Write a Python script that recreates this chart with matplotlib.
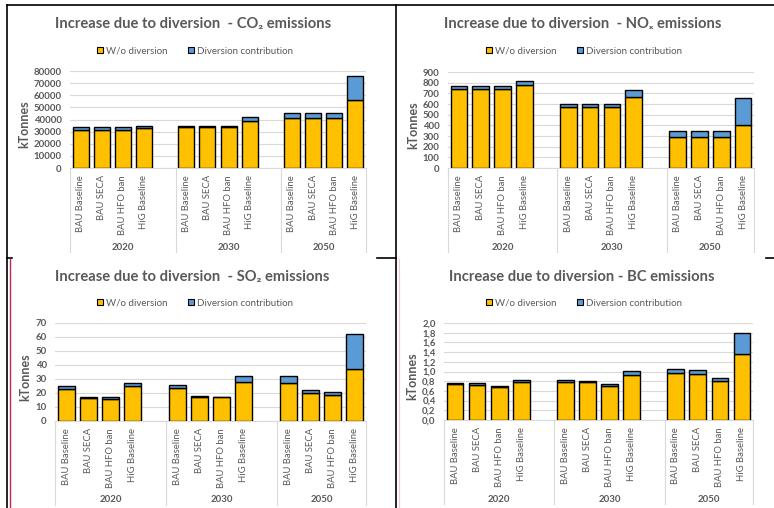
import matplotlib.pyplot as plt
from matplotlib.lines import Line2D
from matplotlib.patches import Rectangle
import matplotlib.transforms as mtransforms

# categories
scenarios = ['BAU Baseline', 'BAU SECA', 'BAU HFO ban', 'HiG Baseline']
scenarios_eca = ['BAU Baseline', 'BAU SECA', 'BAU HFO ban', 'HiG Baseline']
nox_scenarios = ['BAU Baseline', 'BAU SECA', 'BAU HFO ban', 'HiG Baseline']
years = ['2020', '2030', '2050']
series_names = ['W/o diversion', 'Diversion contribution']

# CO2 (kTonnes), order: 2020 x4, 2030 x4, 2050 x4
co2_wo = [31600, 31600, 31600, 33300, 34000, 34000, 34000, 38500, 41000, 41000, 41000, 56400]
co2_div = [1900, 1900, 1900, 1600, 900, 900, 900, 3300, 4400, 4400, 4400, 19200]

nox_wo = [742, 742, 742, 782, 571, 571, 571, 661, 295, 295, 295, 400]
nox_div = [25, 25, 25, 37, 31, 31, 31, 68, 50, 50, 50, 252]

so2_wo = [23.0, 16.1, 16.0, 24.7, 23.7, 17.3, 16.8, 27.6, 26.9, 19.9, 18.9, 37.4]
so2_div = [1.9, 0.7, 0.8, 2.2, 1.7, 0.7, 0.7, 4.5, 5.2, 1.9, 1.7, 24.5]

bc_wo = [0.745, 0.724, 0.676, 0.793, 0.793, 0.793, 0.697, 0.924, 0.966, 0.952, 0.814, 1.352]
bc_div = [0.027, 0.042, 0.021, 0.035, 0.041, 0.021, 0.041, 0.083, 0.089, 0.082, 0.062, 0.441]

co2_ticks = [0, 10000, 20000, 30000, 40000, 50000, 60000, 70000, 80000]
nox_ticks = [0, 100, 200, 300, 400, 500, 600, 700, 800, 900]
so2_ticks = [0, 10, 20, 30, 40, 50, 60, 70]
bc_ticks = [0.0, 0.2, 0.4, 0.6, 0.8, 1.0, 1.2, 1.4, 1.6, 1.8, 2.0]

W, H = 774, 508
YELLOW = '#FFC000'
BLUE = '#5B9BD5'
GREY = '#595959'
GRID = '#D9D9D9'
FONT = ['Lato', 'DejaVu Sans']

plt.rcParams['font.family'] = FONT

fig = plt.figure(figsize=(W / 100, H / 100), dpi=100)


def px(x, y):
    return x / W, 1 - y / H


# slot positions: 4 bars per year, blank slot between years
xpos = [0, 1, 2, 3, 5, 6, 7, 8, 10, 11, 12, 13]


def panel(left, right, top, bottom, title, tcx, tcy, lcx, lcy, ylx,
          labels, wo, div, ticks, ticklabels):
    ax = fig.add_axes([left / W, 1 - bottom / H, (right - left) / W, (bottom - top) / H])
    ax.bar(xpos, wo, width=0.76, color=YELLOW, edgecolor='black', linewidth=1, zorder=3)
    ax.bar(xpos, div, bottom=wo, width=0.76, color=BLUE, edgecolor='black', linewidth=1, zorder=3)
    ax.set_xlim(-0.5, 13.5)
    ax.set_ylim(ticks[0], ticks[-1])
    ax.set_yticks(ticks)
    ax.set_yticklabels(ticklabels, fontsize=6.9, fontweight='bold', color=GREY)
    ax.set_xticks(xpos)
    ax.set_xticklabels(labels * 3, rotation=90, fontsize=6.8, color=GREY, va='top')
    ax.tick_params(axis='x', length=0, pad=5)
    ax.tick_params(axis='y', length=0, pad=6)
    ax.grid(axis='y', color=GRID, linewidth=0.8, zorder=0)
    for s in ['top', 'right', 'left']:
        ax.spines[s].set_visible(False)
    ax.spines['bottom'].set_color(GRID)
    h = bottom - top
    trans = mtransforms.blended_transform_factory(ax.transData, ax.transAxes)
    for sx in [-0.5, 4.5, 9.5, 13.5]:
        ax.add_line(Line2D([sx, sx], [0, -84 / h], transform=trans, color=GRID,
                           linewidth=0.8, clip_on=False))
    for yc, yr in zip([2, 7, 11.5], years):
        ax.text(yc, -79 / h, yr, transform=trans, ha='center', va='center',
                fontsize=6.9, fontweight='bold', color=GREY)
    fig.text(*px(tcx, tcy), title, ha='center', va='center', fontsize=10.6,
             fontweight='bold', color=GREY)
    fig.text(*px(ylx, (top + bottom) / 2 + 5), 'kTonnes', rotation=90, ha='center',
             va='center', fontsize=9, fontweight='bold', color=GREY)
    handles = [Rectangle((0, 0), 1, 1, facecolor=YELLOW, edgecolor='black', linewidth=0.8),
               Rectangle((0, 0), 1, 1, facecolor=BLUE, edgecolor='black', linewidth=0.8)]
    fig.legend(handles, series_names, loc='center', bbox_to_anchor=px(lcx, lcy),
               ncol=2, frameon=False, handlelength=0.6, handleheight=0.6,
               handletextpad=0.3, columnspacing=2.2, borderpad=0,
               prop={'size': 7, 'family': FONT}, labelcolor=GREY)
    return ax


panel(70, 366, 71, 168, 'Increase due to diversion  - CO\u2082 emissions', 193, 24, 195, 51, 24,
      scenarios, co2_wo, co2_div, co2_ticks, [str(t) for t in co2_ticks])
panel(448, 754, 72, 168, 'Increase due to diversion  - NO\u2093 emissions', 583, 24, 584, 51, 413,
      nox_scenarios, nox_wo, nox_div, nox_ticks, [str(t) for t in nox_ticks])
panel(55, 366, 323, 421, 'Increase due to diversion  - SO\u2082 emissions', 192, 277, 195, 303, 25,
      scenarios_eca, so2_wo, so2_div, so2_ticks, [str(t) for t in so2_ticks])
panel(444, 753, 323, 420, 'Increase due to diversion - BC emissions', 582, 277, 584, 303, 412,
      scenarios, bc_wo, bc_div, bc_ticks, [f'{t:.1f}'.replace('.', ',') for t in bc_ticks])

# page border fragments
def seg(x0, y0, x1, y1, color='black', lw=1.2):
    a0, b0 = px(x0, y0)
    a1, b1 = px(x1, y1)
    fig.add_artist(Line2D([a0, a1], [b0, b1], color=color, linewidth=lw))


seg(7, 5, 774, 5)
seg(7, 5, 7, 508)
seg(396, 5, 396, 508)
seg(7, 258, 12, 258)
seg(377, 258, 396, 258)
seg(766, 258, 774, 258)
seg(10, 259, 10, 508, color='#C8284E', lw=1.0)
seg(399, 259, 399, 508, color='#F4C6D2', lw=0.8)

fig.savefig('out.png', dpi=100)
